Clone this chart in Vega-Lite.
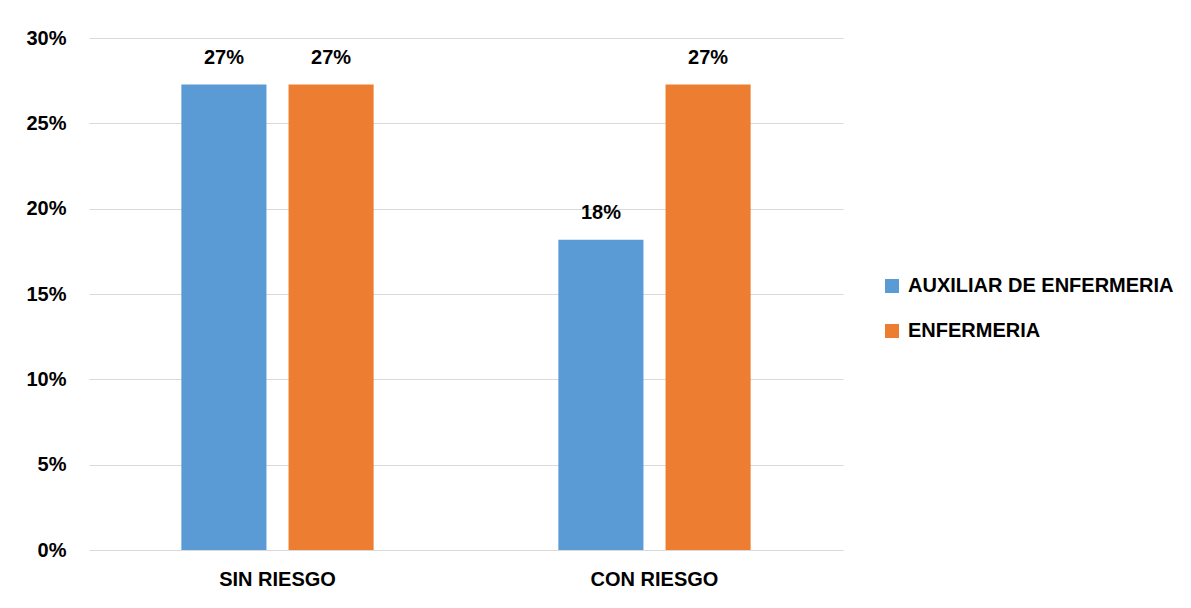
{
  "$schema": "https://vega.github.io/schema/vega-lite/v6.json",
  "autosize": {"type": "none"},
  "width": 754,
  "height": 512,
  "padding": {"left": 89, "top": 38, "right": 348, "bottom": 58},
  "background": "white",
  "data": {"values": [
    {"riesgo": "SIN RIESGO", "grupo": "AUXILIAR DE ENFERMERIA", "valor": 0.2727},
    {"riesgo": "SIN RIESGO", "grupo": "ENFERMERIA", "valor": 0.2727},
    {"riesgo": "CON RIESGO", "grupo": "AUXILIAR DE ENFERMERIA", "valor": 0.1818},
    {"riesgo": "CON RIESGO", "grupo": "ENFERMERIA", "valor": 0.2727}
  ]},
  "config": {
    "font": "Liberation Sans",
    "view": {"stroke": null},
    "axis": {"labelFont": "Liberation Sans", "labelFontWeight": "bold", "labelFontSize": 20, "labelColor": "#000000"}
  },
  "encoding": {
    "x": {"field": "riesgo", "type": "nominal", "sort": ["SIN RIESGO", "CON RIESGO"],
      "scale": {"paddingInner": 0.49, "paddingOuter": 0.245},
      "axis": {"title": null, "labelAngle": 0, "ticks": false, "domain": false, "labelPadding": 19, "labelBaseline": "top"}},
    "xOffset": {"field": "grupo", "type": "nominal", "sort": ["AUXILIAR DE ENFERMERIA", "ENFERMERIA"],
      "scale": {"paddingInner": 0.206, "paddingOuter": 0}},
    "y": {"field": "valor", "type": "quantitative",
      "scale": {"domain": [0, 0.3], "nice": false},
      "axis": {"title": null, "format": ".0%", "values": [0, 0.05, 0.1, 0.15, 0.2, 0.25, 0.3], "ticks": false, "domain": false, "labelPadding": 23, "gridColor": "#d9d9d9", "gridWidth": 1}}
  },
  "layer": [
    {
      "mark": {"type": "bar"},
      "encoding": {
        "color": {"field": "grupo", "type": "nominal", "sort": ["AUXILIAR DE ENFERMERIA", "ENFERMERIA"],
          "scale": {"range": ["#5B9BD5", "#ED7D31"]},
          "legend": {"title": null, "orient": "none", "legendX": 793, "legendY": 238,
            "symbolType": "square", "symbolSize": 196, "symbolStrokeWidth": 0,
            "labelFont": "Liberation Sans", "labelFontWeight": "bold", "labelFontSize": 20, "labelColor": "#000000",
            "labelOffset": 6, "rowPadding": 25, "labelLimit": 400}}
      }
    },
    {
      "mark": {"type": "text", "baseline": "bottom", "dy": -17, "fontSize": 20, "fontWeight": "bold", "font": "Liberation Sans", "color": "#000000"},
      "encoding": {
        "text": {"field": "valor", "type": "quantitative", "format": ".0%"}
      }
    }
  ]
}
